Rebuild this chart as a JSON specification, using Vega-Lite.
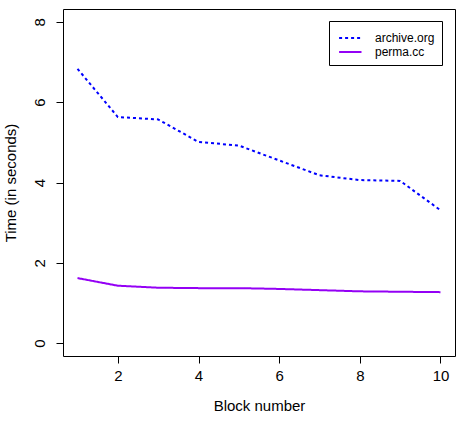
{
  "$schema": "https://vega.github.io/schema/vega-lite/v6.json",
  "autosize": {"type": "none"},
  "width": 392,
  "height": 347,
  "padding": {"left": 63, "top": 9, "right": 10, "bottom": 66},
  "background": "white",
  "config": {
    "font": "Liberation Sans",
    "view": {"stroke": "#000000", "strokeWidth": 1}
  },
  "data": {
    "values": [
      {"block": 1, "site": "archive.org", "time": 6.83},
      {"block": 2, "site": "archive.org", "time": 5.63},
      {"block": 3, "site": "archive.org", "time": 5.57},
      {"block": 4, "site": "archive.org", "time": 5.01},
      {"block": 5, "site": "archive.org", "time": 4.92},
      {"block": 6, "site": "archive.org", "time": 4.55},
      {"block": 7, "site": "archive.org", "time": 4.18},
      {"block": 8, "site": "archive.org", "time": 4.06},
      {"block": 9, "site": "archive.org", "time": 4.04},
      {"block": 10, "site": "archive.org", "time": 3.31},
      {"block": 1, "site": "perma.cc", "time": 1.62},
      {"block": 2, "site": "perma.cc", "time": 1.43},
      {"block": 3, "site": "perma.cc", "time": 1.38},
      {"block": 4, "site": "perma.cc", "time": 1.37},
      {"block": 5, "site": "perma.cc", "time": 1.37},
      {"block": 6, "site": "perma.cc", "time": 1.35},
      {"block": 7, "site": "perma.cc", "time": 1.32},
      {"block": 8, "site": "perma.cc", "time": 1.29},
      {"block": 9, "site": "perma.cc", "time": 1.28},
      {"block": 10, "site": "perma.cc", "time": 1.27}
    ]
  },
  "mark": {"type": "line", "strokeWidth": 2},
  "encoding": {
    "x": {
      "field": "block",
      "type": "quantitative",
      "scale": {"domain": [0.64, 10.36], "nice": false, "zero": false},
      "axis": {
        "title": "Block number",
        "values": [2, 4, 6, 8, 10],
        "grid": false,
        "domain": false,
        "tickColor": "#000000",
        "tickSize": 7,
        "labelFontSize": 15,
        "labelColor": "#000000",
        "labelPadding": 5,
        "titleFontSize": 15,
        "titleFontWeight": "normal",
        "titleColor": "#000000",
        "titlePadding": 15
      }
    },
    "y": {
      "field": "time",
      "type": "quantitative",
      "scale": {"domain": [-0.32, 8.32], "nice": false, "zero": false},
      "axis": {
        "title": "Time (in seconds)",
        "values": [0, 2, 4, 6, 8],
        "grid": false,
        "domain": false,
        "tickColor": "#000000",
        "tickSize": 7,
        "labelAngle": -90,
        "labelAlign": "center",
        "labelBaseline": "bottom",
        "labelFontSize": 15,
        "labelColor": "#000000",
        "labelPadding": 9,
        "titleFontSize": 15,
        "titleFontWeight": "normal",
        "titleColor": "#000000",
        "titlePadding": 14
      }
    },
    "color": {
      "field": "site",
      "type": "nominal",
      "scale": {"domain": ["archive.org", "perma.cc"], "range": ["#0000FF", "#9400F5"]},
      "legend": {
        "title": " ",
        "titleFontSize": 2,
        "titlePadding": 0,
        "orient": "none",
        "legendX": 266,
        "legendY": 12,
        "direction": "vertical",
        "symbolType": "M-0.7,0H2.5",
        "symbolSize": 196,
        "symbolStrokeWidth": 2,
        "labelFontSize": 12,
        "labelColor": "#000000",
        "labelOffset": 23,
        "rowPadding": 0,
        "padding": 7,
        "strokeColor": "#000000",
        "fillColor": "white"
      }
    },
    "strokeDash": {
      "field": "site",
      "type": "nominal",
      "scale": {"domain": ["archive.org", "perma.cc"], "range": [[3, 3], [1, 0]]},
      "legend": null
    }
  }
}
